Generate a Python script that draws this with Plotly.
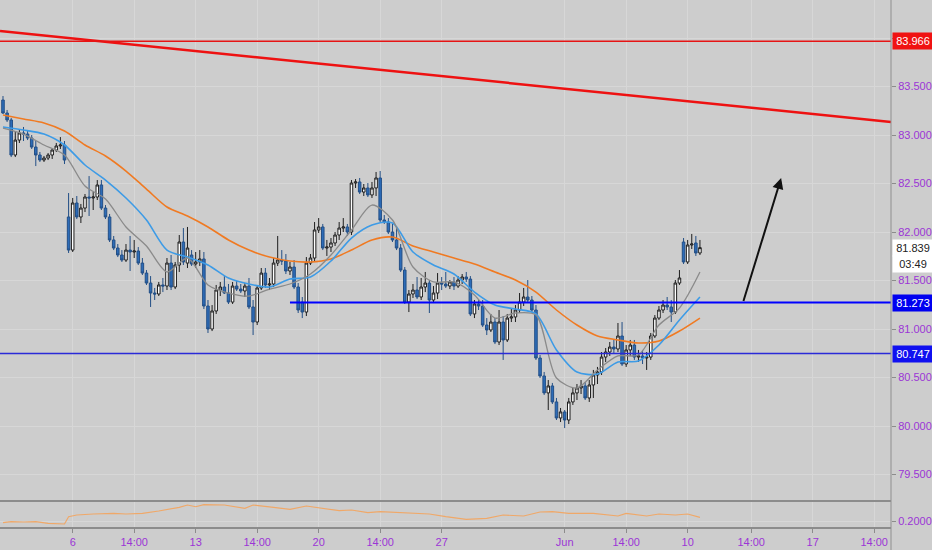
import plotly.graph_objects as go

# 4h candles, bar 0 = first visible candle on the left edge
opens = [83.361, 83.227, 83.155, 82.794, 82.948, 83.021, 83.010, 82.969, 82.876, 82.794,
         82.742, 82.763, 82.794, 82.845, 82.887, 82.897, 82.155, 81.814, 82.299, 82.155,
         82.247, 82.361, 82.351, 82.361, 82.485, 82.247, 82.155, 81.918, 81.835, 81.763,
         81.711, 81.814, 81.794, 81.804, 81.680, 81.577, 81.474, 81.371, 81.361, 81.454,
         81.443, 81.680, 81.433, 81.660, 81.897, 81.680, 81.763, 81.670, 81.691, 81.722,
         81.237, 81.000, 81.186, 81.402, 81.433, 81.371, 81.278, 81.443, 81.412, 81.392,
         81.443, 81.227, 81.072, 81.423, 81.577, 81.454, 81.464, 81.680, 81.711, 81.701,
         81.598, 81.639, 81.433, 81.278, 81.175, 81.680, 81.732, 82.021, 82.052, 81.835,
         81.845, 81.887, 81.969, 82.041, 82.052, 82.000, 82.505, 82.516, 82.412, 82.454,
         82.382, 82.454, 82.557, 82.124, 82.103, 82.000, 81.918, 81.835, 81.608, 81.278,
         81.361, 81.402, 81.330, 81.433, 81.474, 81.299, 81.371, 81.474, 81.464, 81.443,
         81.485, 81.443, 81.505, 81.536, 81.515, 81.155, 81.258, 81.237, 81.041, 80.990,
         81.072, 80.866, 81.072, 80.887, 81.113, 81.124, 81.196, 81.278, 81.330, 81.299,
         81.196, 80.701, 80.516, 80.341, 80.413, 80.248, 80.083, 80.145, 80.062, 80.248,
         80.341, 80.392, 80.413, 80.289, 80.423, 80.526, 80.557, 80.711, 80.763, 80.814,
         80.794, 80.928, 80.639, 80.784, 80.835, 80.711, 80.722, 80.701, 80.711, 80.928,
         81.113, 81.196, 81.247, 81.227, 81.175, 81.474, 81.897, 81.691, 81.866, 81.887,
         81.784]
highs = [83.402, 83.258, 83.175, 83.031, 83.052, 83.083, 83.041, 83.000, 82.938, 82.825,
         82.784, 82.814, 82.856, 82.918, 82.979, 82.938, 82.402, 82.351, 82.371, 82.289,
         82.392, 82.577, 82.412, 82.536, 82.536, 82.278, 82.186, 81.959, 81.876, 81.814,
         81.876, 81.959, 81.918, 81.845, 81.732, 81.608, 81.546, 81.423, 81.485, 81.526,
         81.732, 81.763, 81.691, 81.969, 82.041, 82.052, 81.814, 81.794, 81.814, 81.794,
         81.299, 81.247, 81.454, 81.485, 81.546, 81.464, 81.485, 81.495, 81.464, 81.474,
         81.526, 81.299, 81.454, 81.629, 81.629, 81.526, 81.732, 81.959, 81.814, 81.773,
         81.691, 81.711, 81.474, 81.330, 81.742, 81.773, 82.103, 82.144, 82.083, 81.918,
         81.938, 82.000, 82.103, 82.144, 82.083, 82.536, 82.546, 82.557, 82.495, 82.505,
         82.516, 82.619, 82.629, 82.175, 82.144, 82.083, 82.062, 81.876, 81.639, 81.402,
         81.464, 81.536, 81.526, 81.588, 81.505, 81.443, 81.577, 81.536, 81.588, 81.505,
         81.536, 81.546, 81.567, 81.588, 81.546, 81.299, 81.309, 81.299, 81.113, 81.155,
         81.113, 81.196, 81.134, 81.155, 81.216, 81.247, 81.371, 81.423, 81.505, 81.340,
         81.247, 80.732, 80.557, 80.474, 80.444, 80.289, 80.186, 80.165, 80.289, 80.392,
         80.433, 80.474, 80.454, 80.474, 80.578, 80.609, 80.763, 80.804, 80.866, 80.887,
         81.062, 81.072, 80.835, 80.887, 80.887, 80.784, 80.784, 80.763, 80.959, 81.144,
         81.237, 81.299, 81.330, 81.299, 81.505, 81.608, 81.938, 81.918, 81.980, 81.959,
         81.918]
lows = [83.217, 83.134, 82.773, 82.773, 82.918, 82.938, 82.948, 82.856, 82.680, 82.722,
        82.722, 82.742, 82.753, 82.825, 82.856, 82.701, 81.784, 81.794, 82.134, 82.093,
        82.206, 82.165, 82.227, 82.330, 82.227, 82.134, 81.897, 81.814, 81.742, 81.691,
        81.691, 81.598, 81.732, 81.660, 81.557, 81.454, 81.227, 81.299, 81.340, 81.381,
        81.402, 81.402, 81.412, 81.588, 81.660, 81.629, 81.650, 81.629, 81.650, 81.206,
        80.959, 80.979, 81.155, 81.340, 81.361, 81.258, 81.258, 81.392, 81.371, 81.330,
        81.206, 80.938, 81.041, 81.402, 81.423, 81.402, 81.433, 81.650, 81.660, 81.567,
        81.557, 81.412, 81.165, 81.113, 81.134, 81.660, 81.691, 81.990, 81.814, 81.753,
        81.794, 81.856, 81.918, 82.000, 81.959, 81.969, 82.454, 82.392, 82.371, 82.361,
        82.351, 82.371, 82.103, 82.083, 81.980, 81.897, 81.814, 81.588, 81.258, 81.175,
        81.320, 81.309, 81.299, 81.381, 81.165, 81.268, 81.309, 81.402, 81.423, 81.412,
        81.402, 81.423, 81.464, 81.485, 81.134, 81.113, 81.196, 81.021, 80.938, 80.969,
        80.845, 80.835, 80.681, 80.866, 81.072, 81.072, 81.165, 81.237, 81.278, 81.175,
        80.681, 80.495, 80.320, 80.165, 80.227, 80.062, 80.041, 79.979, 80.021, 80.217,
        80.268, 80.330, 80.268, 80.248, 80.289, 80.433, 80.526, 80.660, 80.722, 80.753,
        80.763, 80.619, 80.609, 80.722, 80.681, 80.660, 80.639, 80.578, 80.681, 80.907,
        81.093, 81.165, 81.196, 81.072, 81.155, 81.454, 81.670, 81.670, 81.825, 81.753,
        81.763]
closes = [83.227, 83.155, 82.794, 82.948, 83.021, 83.010, 82.969, 82.876, 82.794, 82.742,
          82.763, 82.794, 82.845, 82.887, 82.897, 82.742, 81.814, 82.299, 82.155, 82.247,
          82.361, 82.351, 82.361, 82.485, 82.247, 82.155, 81.918, 81.835, 81.763, 81.711,
          81.814, 81.794, 81.804, 81.680, 81.577, 81.474, 81.371, 81.361, 81.454, 81.443,
          81.680, 81.433, 81.660, 81.897, 81.691, 81.835, 81.670, 81.691, 81.722, 81.237,
          81.000, 81.186, 81.402, 81.433, 81.371, 81.278, 81.443, 81.412, 81.392, 81.443,
          81.227, 81.072, 81.423, 81.577, 81.454, 81.464, 81.680, 81.711, 81.701, 81.598,
          81.639, 81.433, 81.196, 81.175, 81.680, 81.732, 82.021, 82.052, 81.835, 81.845,
          81.887, 81.969, 82.041, 82.052, 82.000, 82.505, 82.516, 82.412, 82.454, 82.382,
          82.454, 82.557, 82.124, 82.103, 82.000, 81.918, 81.835, 81.608, 81.278, 81.361,
          81.402, 81.330, 81.433, 81.474, 81.299, 81.371, 81.474, 81.464, 81.443, 81.485,
          81.443, 81.505, 81.536, 81.515, 81.155, 81.258, 81.237, 81.041, 80.990, 81.072,
          80.866, 81.072, 80.887, 81.113, 81.124, 81.196, 81.278, 81.330, 81.299, 81.196,
          80.701, 80.516, 80.341, 80.413, 80.248, 80.083, 80.145, 80.062, 80.248, 80.341,
          80.392, 80.413, 80.289, 80.423, 80.526, 80.557, 80.711, 80.763, 80.814, 80.794,
          80.928, 80.639, 80.784, 80.835, 80.711, 80.722, 80.701, 80.711, 80.928, 81.113,
          81.196, 81.247, 81.227, 81.175, 81.474, 81.526, 81.691, 81.866, 81.876, 81.784,
          81.839]
bars = list(range(len(closes)))

# moving averages read every 5 bars
ma_bars = list(range(0, 171, 5))
ma_fast = [83.072, 83.010, 82.897, 82.794, 82.474, 82.340, 82.052, 81.856, 81.588, 81.732,
           81.454, 81.371, 81.340, 81.412, 81.464, 81.567, 81.763, 82.021, 82.278, 82.124,
           81.639, 81.485, 81.485, 81.351, 81.113, 81.165, 81.144, 80.495, 80.392, 80.577,
           80.722, 80.732, 81.041, 81.216, 81.588]
ma_mid = [83.082, 83.052, 83.010, 82.897, 82.691, 82.536, 82.351, 82.124, 81.814, 81.742,
          81.660, 81.526, 81.464, 81.433, 81.515, 81.536, 81.701, 81.938, 82.072, 82.093,
          81.794, 81.660, 81.567, 81.381, 81.247, 81.206, 81.155, 80.784, 80.557, 80.536,
          80.660, 80.670, 80.835, 81.093, 81.330]
ma_slow = [83.206, 83.165, 83.124, 83.041, 82.897, 82.784, 82.629, 82.443, 82.258, 82.165,
           82.052, 81.918, 81.814, 81.742, 81.701, 81.691, 81.722, 81.814, 81.918, 81.948,
           81.856, 81.794, 81.732, 81.670, 81.588, 81.505, 81.381, 81.196, 81.041, 80.928,
           80.887, 80.856, 80.876, 80.979, 81.113]

# lower pane oscillator
ind_bars = [0, 2, 5, 8, 11, 15, 16, 18, 22, 27, 30, 34, 38, 43, 45, 47, 49, 54, 59, 61,
            66, 70, 74, 78, 82, 85, 89, 92, 98, 104, 108, 113, 118, 122, 127, 131, 134, 138,
            144, 150, 152, 157, 160, 164, 167, 170]
ind_vals = [0.1966, 0.1986, 0.198, 0.1986, 0.1954, 0.194, 0.2086, 0.212, 0.214, 0.2154,
            0.214, 0.2154, 0.22, 0.2274, 0.232, 0.2286, 0.2326, 0.232, 0.2254, 0.232,
            0.2274, 0.2234, 0.23, 0.2254, 0.2206, 0.222, 0.2166, 0.2186, 0.2166, 0.214,
            0.2086, 0.2034, 0.2054, 0.212, 0.21, 0.218, 0.2186, 0.2154, 0.2154, 0.21,
            0.2154, 0.21, 0.214, 0.212, 0.214, 0.2074]

# drawings
res_level = 83.966
level_hi = 81.273
level_hi_start = 70
level_lo = 80.747
trend_x = [-0.73, 216.6]
trend_y = [84.072, 83.134]
arrow_from = (180.5, 81.273)
arrow_to = (189.8, 82.557)
last_price = 81.839
countdown = "03:49"

# axes
x_range = [-0.73, 216.6]
tick_bars = [17, 32, 47, 62, 77, 92, 107, 137, 152, 167, 182.5, 197.5, 212.5]
tick_text = ["6", "14:00", "13", "14:00", "20", "14:00", "27", "Jun", "14:00", "10",
             "14:00", "17", "14:00"]
price_ticks = [79.5, 80.0, 80.5, 81.0, 81.5, 82.0, 82.5, 83.0, 83.5, 84.0]
price_tick_text = ["79.500", "80.000", "80.500", "81.000", "81.500", "82.000", "82.500",
                   "83.000", "83.500", ""]

BG = "#cdcdcd"
GRID = "#d7d7d7"
PURPLE = "#9b35d6"
FONT = "Liberation Sans"

fig = go.Figure()

fig.add_trace(go.Candlestick(
    x=bars, open=opens, high=highs, low=lows, close=closes,
    increasing=dict(line=dict(color="#1e1e1e", width=1), fillcolor="#ffffff"),
    decreasing=dict(line=dict(color="#234f86", width=1), fillcolor="#2d6cb8"),
    whiskerwidth=0, hoverinfo="skip", showlegend=False))

fig.add_trace(go.Scatter(x=ma_bars, y=ma_slow, mode="lines",
                         line=dict(color="#f07a22", width=1.6, shape="spline", smoothing=0.8),
                         hoverinfo="skip", showlegend=False))
fig.add_trace(go.Scatter(x=ma_bars, y=ma_mid, mode="lines",
                         line=dict(color="#3d9be6", width=1.6, shape="spline", smoothing=0.8),
                         hoverinfo="skip", showlegend=False))
fig.add_trace(go.Scatter(x=ma_bars, y=ma_fast, mode="lines",
                         line=dict(color="#8a8a8a", width=1.3, shape="spline", smoothing=0.8),
                         hoverinfo="skip", showlegend=False))

fig.add_trace(go.Scatter(x=ind_bars, y=ind_vals, mode="lines", xaxis="x2", yaxis="y2",
                         line=dict(color="#f0a868", width=1.2),
                         hoverinfo="skip", showlegend=False))

# trendline
fig.add_trace(go.Scatter(x=trend_x, y=trend_y, mode="lines",
                         line=dict(color="#ee1111", width=2.5),
                         hoverinfo="skip", showlegend=False))

shapes = [
    dict(type="line", xref="paper", yref="y", x0=0, x1=1, y0=res_level, y1=res_level,
         line=dict(color="#e61414", width=1.5)),
    dict(type="line", xref="x", yref="y", x0=level_hi_start, x1=x_range[1],
         y0=level_hi, y1=level_hi, line=dict(color="#0000ff", width=2)),
    dict(type="line", xref="paper", yref="y", x0=0, x1=1, y0=level_lo, y1=level_lo,
         line=dict(color="#2a2ad8", width=1.5)),
    # pane separator
    dict(type="line", xref="paper", yref="paper", x0=0, x1=1, y0=0.0493, y1=0.0493,
         line=dict(color="#8c8c8c", width=2)),
    # price scale border
    dict(type="line", xref="paper", yref="paper", x0=1, x1=1, y0=-0.06, y1=1,
         line=dict(color="#8f8f8f", width=1)),
]

def price_box(y, text, bg, fg="#ffffff", yshift=0):
    return dict(xref="paper", yref="y", x=1, y=y, xanchor="left", yanchor="middle",
                text=text, showarrow=False, bgcolor=bg, width=38, height=14,
                font=dict(family=FONT, size=11, color=fg), xshift=1, yshift=yshift,
                borderpad=1)

annotations = [
    price_box(res_level, f"{res_level:.3f}", "#f01212"),
    price_box(level_hi, f"{level_hi:.3f}", "#0000f0"),
    price_box(level_lo, f"{level_lo:.3f}", "#1010f0"),
    price_box(last_price, f"{last_price:.3f}", "#ffffff", fg="#222222"),
    price_box(last_price, countdown, "#ffffff", fg="#222222", yshift=-16),
    dict(xref="x", yref="y", axref="x", ayref="y",
         x=arrow_to[0], y=arrow_to[1], ax=arrow_from[0], ay=arrow_from[1],
         text="", showarrow=True, arrowhead=2, arrowsize=1.1, arrowwidth=2,
         arrowcolor="#111111"),
]

fig.update_layout(
    width=932, height=550,
    margin=dict(l=0, r=41, t=0, b=23),
    paper_bgcolor=BG, plot_bgcolor=BG,
    font=dict(family=FONT, size=11, color=PURPLE),
    showlegend=False,
    boxgap=0.12,
    shapes=shapes,
    annotations=annotations,
    xaxis=dict(domain=[0, 1], range=x_range, anchor="y", tickvals=tick_bars,
               showticklabels=False, showgrid=True, gridcolor=GRID, gridwidth=1,
               zeroline=False, rangeslider=dict(visible=False), fixedrange=True),
    xaxis2=dict(domain=[0, 1], range=x_range, anchor="y2", matches="x",
                tickvals=tick_bars, ticktext=tick_text, showgrid=True, gridcolor=GRID,
                ticks="outside", ticklen=4, tickcolor="#8c8c8c", showline=True,
                linecolor="#8c8c8c", linewidth=2, zeroline=False,
                tickfont=dict(family=FONT, size=11, color=PURPLE)),
    yaxis=dict(domain=[0.0512, 1], range=[79.237, 84.392], side="right", anchor="x",
               tickvals=price_ticks, ticktext=price_tick_text, ticks="outside",
               ticklen=4, tickcolor="#8c8c8c", showgrid=True, gridcolor=GRID,
               zeroline=False, tickfont=dict(family=FONT, size=11, color=PURPLE)),
    yaxis2=dict(domain=[0, 0.0474], range=[0.188, 0.238], side="right", anchor="x2",
                tickvals=[0.2], ticktext=["0.2000"], ticks="outside", ticklen=4,
                tickcolor="#8c8c8c", showgrid=True, gridcolor=GRID, zeroline=False,
                tickfont=dict(family=FONT, size=11, color=PURPLE)),
)

# the page's default body margin would push the chart 8px off the corner
fig.write_html("out.html", config={"displayModeBar": False}, post_script=(
    "document.body.style.margin='0';"
    "document.body.style.overflow='hidden';"
    "document.body.style.background='" + BG + "';"))
